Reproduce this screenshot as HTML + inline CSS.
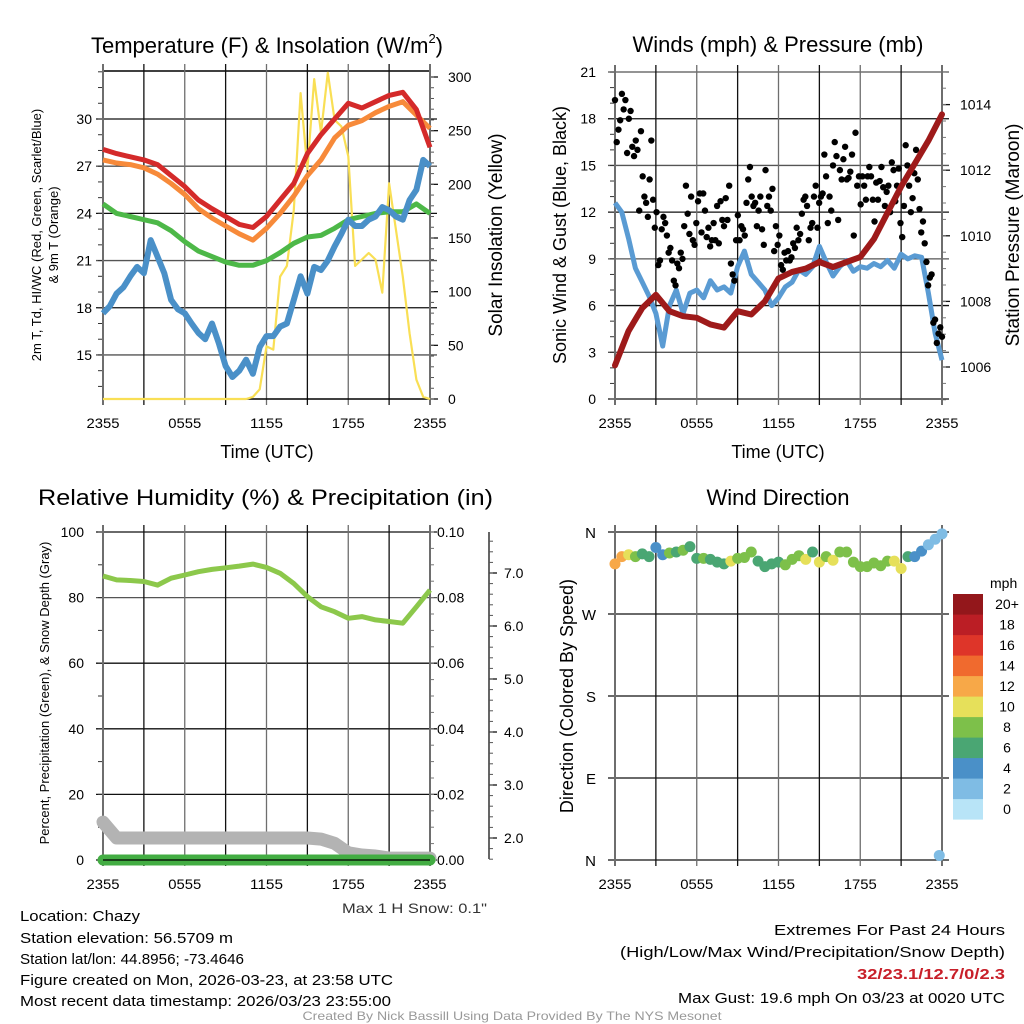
<!DOCTYPE html>
<html><head><meta charset="utf-8"><style>
html,body{margin:0;padding:0;background:#fff;}
svg{display:block;font-family:"Liberation Sans",sans-serif;}
</style></head><body>
<svg id="chart" width="1024" height="1024" viewBox="0 0 1024 1024" xmlns="http://www.w3.org/2000/svg"></svg>
<script>
// ---------- DATA ----------
const tempRed = [28.07,27.8,27.6,27.4,27.1,26.4,25.7,24.85,24.3,23.8,23.3,23.1,23.8,24.85,25.9,27.8,29.0,30.0,31.0,30.7,31.1,31.5,31.7,30.6,28.2];
const temp9mOrange = [27.4,27.2,27.1,26.9,26.5,25.9,25.2,24.3,23.7,23.2,22.7,22.3,23.05,24.0,25.1,26.4,27.4,28.8,29.6,29.9,30.4,30.8,31.1,30.25,29.4];
const chillGreen = [24.6,24.0,23.8,23.6,23.4,22.9,22.2,21.6,21.25,20.9,20.7,20.7,21.0,21.5,22.1,22.5,22.6,23.05,23.6,23.8,24.0,24.1,24.1,24.6,24.0];
const dewBlue = [17.65,18.1,18.9,19.3,20.0,20.6,20.2,22.3,21.25,20.2,18.5,17.9,17.65,17.0,16.4,16.0,17.0,15.75,14.3,13.6,14.0,14.7,13.8,15.5,16.2,16.2,16.8,17.0,18.5,20.0,18.9,20.6,20.4,21.0,21.9,22.7,23.6,23.2,23.2,23.6,23.8,24.4,24.2,23.8,23.6,24.85,25.5,27.4,27.0];
const solar = [0,0,0,0,0,0,0,0,0,0,0,0,0,0,0,0,0,0,0,0,0,0,2,9,49,46,114,124,176,285,214,298,248,304,260,254,226,124,130,136,130,99,201,158,114,61,18,2,0];
const windBlue = [12.6,12.0,10.3,8.4,7.5,6.6,5.5,3.4,6.0,7.0,5.5,6.8,7.0,6.5,7.6,7.0,7.2,6.8,8.5,9.5,8.0,7.5,7.0,6.0,6.5,7.2,7.5,8.3,8.0,8.5,9.8,8.8,7.9,8.5,8.9,8.2,8.5,8.4,8.7,8.5,8.9,8.4,9.3,9.0,9.2,9.1,6.8,4.2,2.5];
const pressure = [1006.05,1007.1,1007.8,1008.2,1007.7,1007.55,1007.5,1007.3,1007.2,1007.7,1007.6,1008.0,1008.7,1008.9,1009.0,1009.2,1009.05,1009.2,1009.35,1009.9,1010.7,1011.5,1012.2,1012.9,1013.7];
const gusts = [19.2,16.5,17.3,17.9,19.6,18.6,19.2,15.8,18.0,18.5,16.2,15.6,16.6,16.0,12.1,17.2,14.3,13.0,12.6,11.7,14.1,16.6,12.8,11.0,12.0,8.6,8.9,10.9,11.7,11.3,10.5,9.4,9.7,8.9,7.6,7.3,8.7,8.4,9.4,9.0,11.1,13.7,11.9,10.6,13.0,10.2,9.9,11.3,12.7,13.2,10.7,13.2,12.1,10.4,11.0,9.8,10.2,11.3,10.2,12.4,10.0,12.7,11.5,11.1,12.9,11.5,13.7,8.7,8.0,7.6,10.2,11.8,10.2,11.1,10.9,10.5,12.6,14.1,14.9,13.0,12.4,12.6,11.1,12.1,13.0,10.9,9.9,14.7,12.4,13.0,12.1,13.5,9.5,11.1,9.9,10.5,8.6,8.3,9.4,8.9,9.5,8.9,9.1,10.0,9.7,11.0,10.2,10.6,11.9,12.8,13.0,12.4,10.2,11.0,11.3,13.0,13.7,11.0,12.6,13.0,13.2,15.7,14.3,11.3,13.0,12.1,15.0,16.5,15.6,11.5,14.7,14.1,15.4,16.2,14.1,14.2,14.6,15.7,10.5,17.1,13.7,14.3,12.5,14.3,13.7,12.8,14.3,14.9,14.3,12.8,11.4,13.9,12.8,14.0,14.9,13.6,12.4,13.3,13.7,12.0,15.2,14.7,12.7,13.7,14.8,11.3,10.4,12.4,16.3,15.0,13.7,12.0,12.9,14.5,16.0,14.1,12.2,10.7,11.4,10.0,8.8,7.3,7.8,8.0,4.9,5.1,3.6,4.2,4.6,4.0];
const rh = [86.6,85.4,85.2,84.9,83.8,85.9,86.9,87.9,88.6,89.1,89.6,90.2,89.2,87.4,84.3,80.3,77.2,75.7,73.7,74.2,73.2,72.7,72.2,77.2,82.3];
const precip = [0,0,0,0,0,0,0,0,0,0,0,0,0,0,0,0,0,0,0,0,0,0,0,0,0];
const snowDepth = [2.3,2.0,2.0,2.0,2.0,2.0,2.0,2.0,2.0,2.0,2.0,2.0,2.0,2.0,2.0,2.0,1.98,1.9,1.72,1.68,1.66,1.62,1.62,1.62,1.62];
const windDir = [325,333,335,333,336,333,343,335,337,338,340,344,331,331,330,327,325,328,331,332,338,328,322,325,327,324,330,334,330,338,327,333,329,338,338,327,322,322,326,323,328,328,320,333,333,339,346,352,358];
const windSpd = [13,12,10,9,7,6,5,4,8,7,8,7,7,8,7,6,6,10,8,8,8,7,6,6,7,8,8,8,10,6,10,8,10,8,8,9,8,8,8,8,9,10,10,6,5,4,3,2,2];
const extraDirH = [23.8];
const extraDir = [5];
const extraSpd = [2];
const speedBins = ["0","2","4","6","8","10","12","14","16","18","20+"];
const speedColors = ["#b8e4f7","#7fbce4","#4a90c8","#4aa673","#7dc04a","#e6e05a","#f7a848","#f06a2e","#de3529","#bb1e25","#93171b"];
const timeLabels = ["2355","0555","1155","1755","2355"];
const tempTicks = [15,18,21,24,27,30];
const solarTicks = [0,50,100,150,200,250,300];
const windTicks = [0,3,6,9,12,15,18,21];
const presTicks = [1006,1008,1010,1012,1014];
const rhTicks = [0,20,40,60,80,100];
const precipTicks = ["0.00","0.02","0.04","0.06","0.08","0.10"];
const snowTicks = ["2.0","3.0","4.0","5.0","6.0","7.0"];
const dirTicks = ["N","E","S","W","N"];

// ---------- HELPERS ----------
const NS="http://www.w3.org/2000/svg";
const svg=document.getElementById('chart');
function mk(tag,attrs,parent){const e=document.createElementNS(NS,tag);for(const k in attrs)e.setAttribute(k,attrs[k]);(parent||svg).appendChild(e);return e;}
function txt(s,x,y,size,anchor,parent,extra){const t=mk('text',Object.assign({x:x,y:y,'font-size':size,'text-anchor':anchor||'start',fill:'#000'},extra||{}),parent);t.textContent=s;return t;}
function grp(name){const g=mk('g',{});


return g;}
function pathFrom(xs,ys){let d='';for(let i=0;i<xs.length;i++)d+=(i?'L':'M')+xs[i].toFixed(1)+' '+ys[i].toFixed(1);return d;}

function panelFrame(g,x0,x1,yT,yB){
  for(let i=0;i<=8;i++){const x=x0+i*(x1-x0)/8;
    const l=mk('line',{x1:x,y1:yT-7,x2:x,y2:yB+6,stroke:(i%2===0?'#6e6e6e':'#111'),'stroke-width':(i===0||i===8)?2:1.3},g);
    
    }
  for(let i=0;i<5;i++){const t=txt(timeLabels[i],x0+i*(x1-x0)/4,yB+29,14,'middle',g,{textLength:33,lengthAdjust:'spacingAndGlyphs'});
    
    }
}
function hline(g,y,x0,x1,col){const l=mk('line',{x1:x0-7,y1:y,x2:x1+7,y2:y,stroke:col||'#111','stroke-width':1.3},g);
  
  }
function rotText(s,x,y,size,g){const t=txt(s,x,y,size,'middle',g,{transform:'rotate(-90 '+x+' '+y+')'});return t;}

// ---------- PANEL 1: Temperature ----------
(function(){
  const g=grp('temperature-panel');
  const x0=103,x1=430,yT=71,yB=399;
  const X=h=>x0+h*(x1-x0)/24;
  const Y=T=>119+(30-T)*15.73;
  const YS=W=>399-W*322/300;
  const t=mk('text',{x:267,y:53,'font-size':22,'text-anchor':'middle',fill:'#000'},g);
  
  
  const s1=mk('tspan',{},t);s1.textContent='Temperature (F) & Insolation (W/m';
  const s2=mk('tspan',{dy:-10,'font-size':13},t);s2.textContent='2';
  const s3=mk('tspan',{dy:10},t);s3.textContent=')';
  tempTicks.forEach((v,i)=>{hline(g,Y(v),x0,x1,i%2?'#111':'#555');const l=txt(String(v),92,Y(v)+5,14,'end',g);
    
    });
  for(let v=13;v<=33;v++)mk('line',{x1:x0-5,y1:Y(v),x2:x0,y2:Y(v),stroke:'#333'},g);
  solarTicks.forEach(v=>{mk('line',{x1:x1,y1:YS(v),x2:x1+8,y2:YS(v),stroke:'#111','stroke-width':1.3},g);const l=txt(String(v),448,YS(v)+5,14,'start',g);
    
    });
  for(let v=0;v<=300;v+=10)mk('line',{x1:x1,y1:YS(v),x2:x1+4,y2:YS(v),stroke:'#555'},g);
  mk('line',{x1:x0,y1:yT,x2:x1,y2:yT,stroke:'#000','stroke-width':1.5},g);
  panelFrame(g,x0,x1,yT,yB);
  mk('line',{x1:x0,y1:yB,x2:x1,y2:yB,stroke:'#000','stroke-width':1.5},g);
  const h1=Array.from({length:25},(_,i)=>i), h2=Array.from({length:49},(_,i)=>i/2);
  const ys=mk('path',{d:pathFrom(h2.map(X),solar.map(YS)),fill:'none',stroke:'#f9df55','stroke-width':2.2,'stroke-linejoin':'round'},g);
  
  
  const gl=mk('path',{d:pathFrom(h1.map(X),chillGreen.map(Y)),fill:'none',stroke:'#4db848','stroke-width':5,'stroke-linejoin':'round'},g);
  
  
  const bl=mk('path',{d:pathFrom(h2.map(X),dewBlue.map(Y)),fill:'none',stroke:'#4a90c8','stroke-width':6,'stroke-linejoin':'round'},g);
  
  
  const ol=mk('path',{d:pathFrom(h1.map(X),temp9mOrange.map(Y)),fill:'none',stroke:'#f78a3a','stroke-width':5,'stroke-linejoin':'round'},g);
  
  
  const rl=mk('path',{d:pathFrom(h1.map(X),tempRed.map(Y)),fill:'none',stroke:'#d42a2a','stroke-width':5,'stroke-linejoin':'round'},g);
  
  
  const yl1=txt('',0,0,13,'middle',g,{transform:'translate(41 235) rotate(-90)'});
  yl1.textContent='2m T, Td, HI/WC (Red, Green, Scarlet/Blue)';
  
  
  const yl2=txt('& 9m T (Orange)',0,0,13,'middle',g,{transform:'translate(58 235) rotate(-90)'});
  
  
  const yr=rotText('Solar Insolation (Yellow)',502,235,19,g);
  
  
  const xt=txt('Time (UTC)',267,458,18,'middle',g);
  
  
})();

// ---------- PANEL 2: Winds ----------
(function(){
  const g=grp('winds-panel');
  const x0=615,x1=942,yT=72,yB=399;
  const X=h=>x0+h*(x1-x0)/24;
  const Y=v=>399-v*15.57;
  const YP=p=>367-(p-1006)*32.8;
  const t=txt('Winds (mph) & Pressure (mb)',778,52,22,'middle',g);
  windTicks.forEach((v,i)=>{hline(g,Y(v),x0,x1,i%2?'#555':'#111');const l=txt(String(v),596,Y(v)+5,14,'end',g);
    
    });
  for(let v=0;v<=21;v++)mk('line',{x1:x0-5,y1:Y(v),x2:x0,y2:Y(v),stroke:'#333'},g);
  presTicks.forEach(v=>{mk('line',{x1:x1,y1:YP(v),x2:x1+8,y2:YP(v),stroke:'#111','stroke-width':1.3},g);const l=txt(String(v),960,YP(v)+5,14,'start',g);
    
    });
  for(let v=1005;v<=1015;v+=0.5)mk('line',{x1:x1,y1:YP(v),x2:x1+4,y2:YP(v),stroke:'#777'},g);
  panelFrame(g,x0,x1,yT,yB);
  const h1=Array.from({length:25},(_,i)=>i), h2=Array.from({length:49},(_,i)=>i/2);
  const wl=mk('path',{d:pathFrom(h2.map(X),windBlue.map(Y)),fill:'none',stroke:'#5a9bd3','stroke-width':5,'stroke-linejoin':'round'},g);
  
  
  gusts.forEach((v,i)=>{const c=mk('circle',{cx:X(i*24/(gusts.length-1)),cy:Y(v),r:3.2,fill:'#000'},g);
    
    });
  const pl=mk('path',{d:pathFrom(h1.map(X),pressure.map(YP)),fill:'none',stroke:'#9e1a1a','stroke-width':6,'stroke-linejoin':'round','stroke-linecap':'round'},g);
  
  
  const yl=rotText('Sonic Wind & Gust (Blue, Black)',566,235,18,g);
  
  
  const yr=rotText('Station Pressure (Maroon)',1019,235,19,g);
  
  
  const xt=txt('Time (UTC)',778,458,18,'middle',g);
  
  
})();

// ---------- PANEL 3: RH ----------
(function(){
  const g=grp('humidity-panel');
  const x0=103,x1=430,yT=532,yB=860;
  const X=h=>x0+h*(x1-x0)/24;
  const Y=v=>860-v*3.28;
  const YPr=p=>860-p*3280;
  const YS=s=>573+(7-s)*53;
  const t=txt('Relative Humidity (%) & Precipitation (in)',38,505,22,'start',g,{textLength:455,lengthAdjust:'spacingAndGlyphs'});
  rhTicks.forEach((v,i)=>{hline(g,Y(v),x0,x1,i===4?'#555':'#111');const l=txt(String(v),84,Y(v)+5,14,'end',g);
    
    
    const p=txt(precipTicks[i],437,Y(v)+5,14,'start',g);
    
    });
  for(let v=0;v<=100;v+=10)mk('line',{x1:x0-5,y1:Y(v),x2:x0,y2:Y(v),stroke:'#333'},g);
  for(let v=0;v<=100;v+=5)mk('line',{x1:x1,y1:Y(v),x2:x1+4,y2:Y(v),stroke:'#777'},g);
  panelFrame(g,x0,x1,yT,yB);
  mk('line',{x1:489,y1:532,x2:489,y2:859,stroke:'#333','stroke-width':1.5},g);
  snowTicks.forEach((s,i)=>{const v=parseFloat(s);mk('line',{x1:489,y1:YS(v),x2:497,y2:YS(v),stroke:'#111','stroke-width':1.3},g);
    const l=txt(s,504,YS(v)+5,14,'start',g);
    
    });
  for(let v=1.6;v<=7.8;v+=0.2)mk('line',{x1:489,y1:YS(v),x2:493,y2:YS(v),stroke:'#555'},g);
  const h1=Array.from({length:25},(_,i)=>i);
  const sl=mk('path',{d:pathFrom(h1.map(X),snowDepth.map(YS)),fill:'none',stroke:'#b3b3b3','stroke-width':13,'stroke-linejoin':'round','stroke-linecap':'round'},g);
  
  
  const pr=mk('path',{d:pathFrom(h1.map(X),precip.map(YPr)),fill:'none',stroke:'#43ad43','stroke-width':11,'stroke-linecap':'round'},g);
  
  
  mk('line',{x1:x0,y1:yB,x2:x1,y2:yB,stroke:'#000','stroke-width':1.3},g);
  const rl=mk('path',{d:pathFrom(h1.map(X),rh.map(Y)),fill:'none',stroke:'#8cc84b','stroke-width':5,'stroke-linejoin':'round'},g);
  
  
  const yl=rotText('Percent, Precipitation (Green), & Snow Depth (Gray)',49,693,13,g);
  
  
  const ms=txt('Max 1 H Snow: 0.1"',487,913,14,'end',g,{fill:'#333',textLength:145,lengthAdjust:'spacingAndGlyphs'});
  
  
})();

// ---------- PANEL 4: Wind direction ----------
(function(){
  const g=grp('wind-direction-panel');
  const x0=615,x1=942,yT=532,yB=860;
  const X=h=>x0+h*(x1-x0)/24;
  const Y=d=>860-d*328/360;
  const col=s=>speedColors[Math.max(0,Math.min(10,Math.floor(s/2)))];
  const t=txt('Wind Direction',778,505,22,'middle',g);
  dirTicks.forEach((s,i)=>{hline(g,Y(i*90),x0,x1,'#111');const l=txt(s,596,Y(i*90)+6,15,'end',g);
    
    });
  panelFrame(g,x0,x1,yT,yB);
  windDir.forEach((d,i)=>{const c=mk('circle',{cx:X(i/2),cy:Y(d),r:5.5,fill:col(windSpd[i])},g);
    
    });
  extraDir.forEach((d,i)=>{const c=mk('circle',{cx:X(extraDirH[i]),cy:Y(d),r:5.5,fill:col(extraSpd[i])},g);
    
    });
  const yl=rotText('Direction (Colored By Speed)',573,696,18,g);
  
  
  const lg=grp('speed-legend');
  const u=txt('mph',990,588,14,'start',lg);
  
  
  for(let i=0;i<11;i++){const y=594+(10-i)*20.5;
    const r=mk('rect',{x:953,y:y,width:30,height:20.6,fill:speedColors[i]},lg);
    
    
    const l=txt(speedBins[i],1007,y+15,14,'middle',lg);
    
    }
})();

// ---------- FOOTER TEXT ----------
(function(){
  const g=grp('station-info');
  const left=[["Location: Chazy",120],["Station elevation: 56.5709 m",213],["Station lat/lon: 44.8956; -73.4646",224],["Figure created on Mon, 2026-03-23, at 23:58 UTC",373],["Most recent data timestamp: 2026/03/23 23:55:00",371]];
  const ly=[921,943,964,985,1006];
  left.forEach((a,i)=>{const t=txt(a[0],20,ly[i],15,'start',g,{textLength:a[1],lengthAdjust:'spacingAndGlyphs'});
    
    });
  const right=[["Extremes For Past 24 Hours",231,'#000',''],["(High/Low/Max Wind/Precipitation/Snow Depth)",385,'#000',''],["32/23.1/12.7/0/2.3",148,'#c8202a','bold'],["Max Gust: 19.6 mph On 03/23 at 0020 UTC",327,'#000','']];
  const ry=[935,957,979,1003];
  right.forEach((a,i)=>{const t=txt(a[0],1005,ry[i],15,'end',g,{textLength:a[1],lengthAdjust:'spacingAndGlyphs',fill:a[2],'font-weight':a[3]||'normal'});
    
    });
  const c=txt('Created By Nick Bassill Using Data Provided By The NYS Mesonet',512,1020,12,'middle',g,{fill:'#999',textLength:419,lengthAdjust:'spacingAndGlyphs'});
  
  
})();
</script>
</body></html>
